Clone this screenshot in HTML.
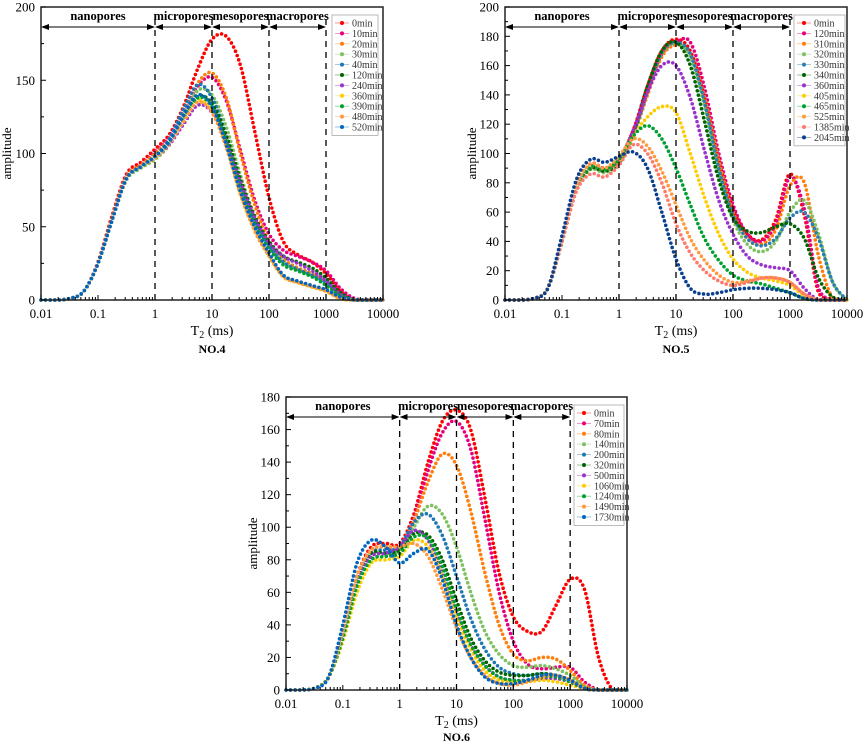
<!DOCTYPE html>
<html><head><meta charset="utf-8"><style>
body{margin:0;background:#fff;}
svg text{font-family:"Liberation Serif",serif;}
</style></head><body>
<svg id="fig" width="865" height="744" viewBox="0 0 865 744" xmlns="http://www.w3.org/2000/svg">
<defs><marker id="ah" markerWidth="8" markerHeight="6" refX="7" refY="3" orient="auto-start-reverse"><path d="M0,0 L8,3 L0,6 Z" fill="#000"/></marker></defs>
</svg>
<script>
// shared log10(T2) grid for every series: -2 .. 4 step 0.25
const lgGrid=[-2,-1.75,-1.5,-1.25,-1,-0.75,-0.5,-0.25,0,0.25,0.5,0.75,1,1.25,1.5,1.75,2,2.25,2.5,2.75,3,3.25,3.5,3.75,4];
const xTickLabels=["0.01","0.1","1","10","100","1000","10000"];
const poreLabels=["nanopores","micropores","mesopores","macropores"];
const colors=["#ff0000","#e6007e","#ff7f0e","#7fc060","#1f78b4","#006400","#9932cc","#ffcc00","#00a030","#ff9a40","#0066c0"];
const colors5=["#ff0000","#e6007e","#ff7f0e","#7fc060","#2a7fb0","#006400","#9932cc","#ffcc00","#00a030","#ff9a40","#ff7a6a","#0a3f8f"];

// Panel NO.4
const n4Labels=["0min","10min","20min","30min","40min","120min","240min","360min","390min","480min","520min"];
const n4_0  =[0,0,1,6,26,58,86,94,103,113,132,158,178,180,160,115,70,40,31,26,18,6,0,0,0];
const n4_10 =[0,0,1,6,25,56,84,92,101,111,128,146,152,136,102,68,45,34,30,26,20,8,1,0,0];
const n4_20 =[0,0,1,6,25,56,84,92,100,110,128,148,155,138,100,65,40,28,22,18,12,4,0,0,0];
const n4_30 =[0,0,1,6,25,55,82,90,96,106,124,143,140,118,85,57,38,26,20,16,11,3,0,0,0];
const n4_40 =[0,0,1,6,25,55,83,91,98,110,130,147,138,112,80,55,37,26,21,17,12,4,0,0,0];
const n4_120=[0,0,1,6,25,55,83,91,98,108,124,139,134,112,82,57,40,30,26,22,15,5,0,0,0];
const n4_240=[0,0,1,6,25,55,83,91,97,106,120,133,128,108,80,56,39,30,25,20,13,4,0,0,0];
const n4_360=[0,0,1,6,25,55,83,91,97,107,122,136,130,105,72,48,30,16,12,9,6,1,0,0,0];
const n4_390=[0,0,1,6,25,55,83,91,97,107,123,138,132,108,76,52,35,24,20,16,10,3,0,0,0];
const n4_480=[0,0,1,6,25,55,83,91,97,107,122,135,128,104,72,47,30,16,12,9,6,1,0,0,0];
const n4_520=[0,0,1,6,25,55,83,91,98,108,126,140,132,106,74,50,32,17,13,10,7,2,0,0,0];

// Panel NO.5
const n5Labels=["0min","120min","310min","320min","330min","340min","360min","405min","465min","525min","1385min","2045min"];
const n5_0   =[0,0,1,8,42,78,93,90,96,116,146,170,178,170,138,95,62,45,41,55,86,58,5,0,0];
const n5_120 =[0,0,1,8,42,78,93,90,96,114,142,168,176,176,145,100,65,45,40,52,84,62,8,0,0];
const n5_310 =[0,0,1,8,40,76,90,88,94,112,140,166,174,168,138,95,60,42,38,48,78,80,30,1,0];
const n5_320 =[0,0,1,8,40,75,89,87,93,112,142,168,175,166,132,88,55,38,33,40,60,68,45,12,0];
const n5_330 =[0,0,1,8,40,75,90,88,94,113,143,169,176,168,135,90,58,42,37,42,56,60,42,12,0];
const n5_340 =[0,0,1,8,40,75,90,88,94,114,146,170,176,160,122,82,56,47,46,50,52,42,15,2,0];
const n5_360 =[0,0,1,8,40,76,91,89,95,116,142,160,160,138,102,68,45,30,24,22,20,8,0,0,0];
const n5_405 =[0,0,1,8,40,76,91,89,95,112,125,132,128,100,70,45,28,19,15,13,10,3,0,0,0];
const n5_465 =[0,0,1,8,40,76,91,89,96,112,119,110,90,65,42,27,17,13,11,8,5,1,0,0,0];
const n5_525 =[0,0,1,8,42,78,93,90,98,110,105,88,65,42,27,17,12,13,15,15,12,4,0,0,0];
const n5_1385=[0,0,1,8,40,74,86,84,92,106,100,80,52,32,20,13,10,12,15,15,12,4,0,0,0];
const n5_2045=[0,0,1,8,44,82,96,94,98,101,90,60,28,8,4,5,7,8,8,7,5,1,0,0,0];

// Panel NO.6
const n6Labels=["0min","70min","80min","140min","200min","320min","500min","1060min","1240min","1490min","1730min"];
const n6_0   =[0,0,1,8,36,70,88,90,90,108,140,165,172,160,118,72,45,36,36,52,68,62,20,0,0];
const n6_70  =[0,0,1,8,36,70,86,88,88,105,135,158,165,148,105,60,30,16,13,14,14,5,0,0,0];
const n6_80  =[0,0,1,8,36,70,86,88,88,104,128,145,138,110,72,40,22,18,20,19,12,3,0,0,0];
const n6_140 =[0,0,1,8,34,66,82,84,86,100,113,108,88,60,36,22,15,14,15,13,9,2,0,0,0];
const n6_200 =[0,0,1,8,34,66,84,86,88,103,108,95,70,44,25,14,10,9,10,9,6,1,0,0,0];
const n6_320 =[0,0,1,8,34,68,84,84,86,96,95,80,55,32,18,11,9,9,10,9,6,1,0,0,0];
const n6_500 =[0,0,1,8,34,66,82,84,88,98,92,72,48,28,15,8,6,6,7,7,5,1,0,0,0];
const n6_1060=[0,0,1,8,30,60,78,80,82,92,88,70,45,25,12,6,5,5,6,5,3,1,0,0,0];
const n6_1240=[0,0,1,8,32,64,80,82,84,94,93,76,50,28,15,8,6,6,8,8,5,1,0,0,0];
const n6_1490=[0,0,1,8,36,70,86,88,88,90,82,62,38,20,9,4,3,5,8,9,6,1,0,0,0];
const n6_1730=[0,0,1,8,40,78,92,88,78,84,86,68,40,20,8,4,4,6,9,9,6,1,0,0,0];

const NS="http://www.w3.org/2000/svg";
const svg=document.getElementById('fig');
function mk(tag,attrs,parent){const e=document.createElementNS(NS,tag);for(const k in attrs)e.setAttribute(k,attrs[k]);(parent||svg).appendChild(e);return e;}

function drawPanel(p){
  const g=mk('g',{});
  
  
  const xS=lg=>p.x0+(lg+2)/6*(p.x1-p.x0);
  const yS=v=>p.y1-v/p.ymax*(p.y1-p.y0);
  p.series.forEach((s,si)=>{
    const pts=lgGrid.map((lg,i)=>[xS(lg),yS(s[i])]);
    let d='M'+pts[0][0].toFixed(1)+','+pts[0][1].toFixed(1);
    for(let i=0;i<pts.length-1;i++){
      const p0=pts[Math.max(0,i-1)],p1=pts[i],p2=pts[i+1],p3=pts[Math.min(pts.length-1,i+2)];
      const c1=[p1[0]+(p2[0]-p0[0])/6,Math.min(p.y1,p1[1]+(p2[1]-p0[1])/6)];
      const c2=[p2[0]-(p3[0]-p1[0])/6,Math.min(p.y1,p2[1]-(p3[1]-p1[1])/6)];
      d+=' C'+c1[0].toFixed(1)+','+c1[1].toFixed(1)+' '+c2[0].toFixed(1)+','+c2[1].toFixed(1)+' '+p2[0].toFixed(1)+','+p2[1].toFixed(1);
    }
    const path=mk('path',{d:d,fill:'none',stroke:p.colors[si],'stroke-width':3.6,'stroke-linecap':'round','stroke-dasharray':'0 4.6'},g);
    
    
  });
  [0,1,2,3].forEach(lg=>{
    const l=mk('line',{x1:xS(lg),x2:xS(lg),y1:p.y0+12,y2:p.y1,stroke:'#000','stroke-width':1.3,'stroke-dasharray':'6 5'},g);
    
    
  });
  const bounds=[p.x0,xS(0),xS(1),xS(2),xS(3)];
  poreLabels.forEach((t,i)=>{
    const a=mk('line',{x1:bounds[i]+1,x2:bounds[i+1]-1,y1:p.y0+20,y2:p.y0+20,stroke:'#000','stroke-width':1,'marker-start':'url(#ah)','marker-end':'url(#ah)'},g);
    
    
    const tx=mk('text',{x:(bounds[i]+bounds[i+1])/2,y:p.y0+13,'text-anchor':'middle','font-size':12.5,'font-weight':'bold'},g);
    tx.textContent=t;
    
    
  });
  const fr=mk('rect',{x:p.x0,y:p.y0,width:p.x1-p.x0,height:p.y1-p.y0,fill:'none',stroke:'#222','stroke-width':1.5},g);
  
  
  for(let dec=-2;dec<=4;dec++){
    const x=xS(dec);
    mk('line',{x1:x,x2:x,y1:p.y1,y2:p.y1-5,stroke:'#000'},g);
    const t=mk('text',{x:x,y:p.y1+18,'text-anchor':'middle','font-size':13},g);
    t.textContent=xTickLabels[dec+2];
    
    
    if(dec<4)for(let m=2;m<=9;m++){const xm=xS(dec+Math.log10(m));mk('line',{x1:xm,x2:xm,y1:p.y1,y2:p.y1-3,stroke:'#000'},g);}
  }
  for(let v=0;v<=p.ymax;v+=p.ystep){
    const y=yS(v);
    mk('line',{x1:p.x0,x2:p.x0+5,y1:y,y2:y,stroke:'#000'},g);
    if(v+p.ystep/2<p.ymax){const ym=yS(v+p.ystep/2);mk('line',{x1:p.x0,x2:p.x0+3,y1:ym,y2:ym,stroke:'#000'},g);}
    const t=mk('text',{x:p.x0-6,y:y+4.5,'text-anchor':'end','font-size':13},g);
    t.textContent=v;
    
    
  }
  const yt=mk('text',{x:0,y:0,transform:`translate(${p.x0-(p.ystep<50?29:30)},${(p.y0+p.y1)/2}) rotate(-90)`,'text-anchor':'middle','font-size':13},g);
  yt.textContent='amplitude';
  
  
  const xt=mk('text',{x:(p.x0+p.x1)/2,y:p.y1+35,'text-anchor':'middle','font-size':14},g);
  xt.innerHTML='T<tspan font-size="10" dy="3">2</tspan><tspan dy="-3"> (ms)</tspan>';
  
  
  const nt=mk('text',{x:(p.x0+p.x1)/2,y:p.y1+p.noDy,'text-anchor':'middle','font-size':12,'font-weight':'bold'},g);
  nt.textContent=p.title;
  
  
  const lg=mk('g',{},g);
  
  
  const rowH=10.4;
  mk('rect',{x:p.lx,y:p.ly,width:p.lw,height:p.labels.length*rowH+6,fill:'#fff',stroke:'#aaa','stroke-width':0.8},lg);
  p.labels.forEach((t,i)=>{
    const y=p.ly+8+i*rowH;
    const e=mk('g',{},lg);
    
    
    mk('line',{x1:p.lx+3,x2:p.lx+17,y1:y,y2:y,stroke:p.colors[i],'stroke-width':0.8,opacity:0.5},e);
    mk('circle',{cx:p.lx+10,cy:y,r:2,fill:p.colors[i]},e);
    const tx=mk('text',{x:p.lx+20,y:y+3.5,'font-size':10,fill:'#333'},e);
    tx.textContent=t;
  });
}

drawPanel({name:'chart-no4',title:'NO.4',x0:41,x1:383,y0:7,y1:300,ymax:200,ystep:50,noDy:53,
  series:[n4_0,n4_10,n4_20,n4_30,n4_40,n4_120,n4_240,n4_360,n4_390,n4_480,n4_520],labels:n4Labels,colors:colors,lx:332,ly:15,lw:46});
drawPanel({name:'chart-no5',title:'NO.5',x0:505,x1:847,y0:7,y1:300,ymax:200,ystep:20,noDy:53,
  series:[n5_0,n5_120,n5_310,n5_320,n5_330,n5_340,n5_360,n5_405,n5_465,n5_525,n5_1385,n5_2045],labels:n5Labels,colors:colors5,lx:794,ly:15,lw:51});
drawPanel({name:'chart-no6',title:'NO.6',x0:286,x1:627,y0:397,y1:690,ymax:180,ystep:20,noDy:51,
  series:[n6_0,n6_70,n6_80,n6_140,n6_200,n6_320,n6_500,n6_1060,n6_1240,n6_1490,n6_1730],labels:n6Labels,colors:colors,lx:574,ly:405,lw:50});
</script>
</body></html>
